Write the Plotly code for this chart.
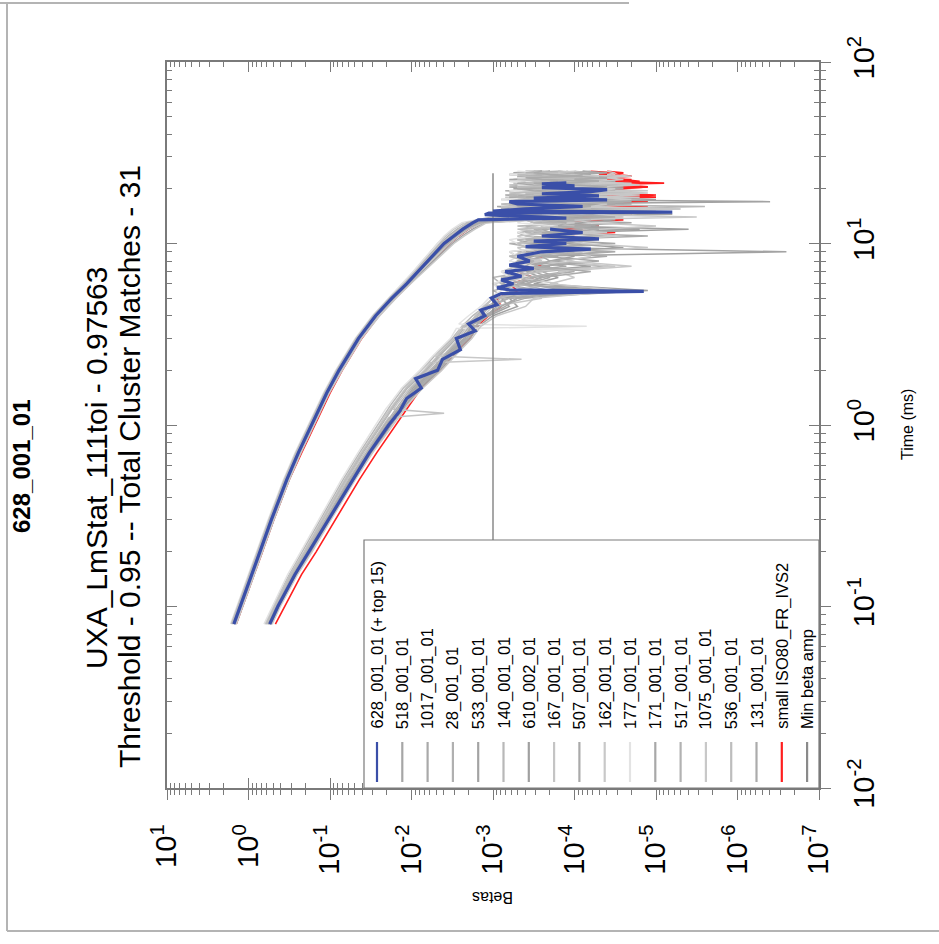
import plotly.graph_objects as go

# ---------------- data (log10 of beta) ----------------
T_UP_SMOOTH = [0.08, 0.1, 0.15, 0.2, 0.3, 0.5, 0.7, 1, 1.5, 2, 3, 4, 5, 6, 7, 8, 9, 10, 11, 12]
T_UP_NOISE = [13, 13.5, 14, 14.5, 15, 15.5, 16, 16.5, 17, 17.5, 18, 18.5, 19, 19.5, 20, 20.5,
              21, 21.5, 22, 22.5, 23, 23.5, 24, 24.5, 25]
T_LO_SMOOTH = [0.08, 0.1, 0.15, 0.2, 0.3, 0.5, 0.7, 1, 1.3, 1.6, 2, 2.5, 3, 3.5]
T_LO_SPIKY = [0.08, 0.1, 0.15, 0.2, 0.3, 0.5, 0.7, 1, 1.1, 1.16, 1.22, 1.3, 1.6, 2, 2.2, 2.3, 2.4,
              2.5, 3, 3.4, 3.5, 3.6]
T_LO_NOISE = [4, 4.5, 5, 5.5, 6, 6.5, 7, 7.5, 8, 8.5, 9, 9.5, 10, 10.5, 11, 11.5, 12, 12.5, 13, 13.5,
              14, 14.5, 15, 15.5, 16, 16.5, 17, 17.5, 18, 18.5, 19, 19.5, 20, 20.5, 21, 21.5, 22,
              22.5, 23, 23.5, 24, 24.5, 25]

T_BLUE_UP = [0.08, 0.1, 0.15, 0.2, 0.3, 0.5, 0.7, 1, 1.5, 2, 3, 4, 5, 6, 7, 8, 9, 10, 11, 12, 13,
             13.5, 13.8, 14.1, 14.4, 14.7, 14.9, 15.1, 15.5, 16, 16.5, 17, 17.4, 17.8, 18.3, 18.8,
             19.3, 19.8, 20.3, 20.8, 21.3, 21.6]
LB_BLUE_UP = [0.18, 0.10, -0.04, -0.14, -0.28, -0.47, -0.61, -0.77, -0.96, -1.11, -1.35, -1.56,
              -1.76, -1.94, -2.08, -2.20, -2.31, -2.40, -2.52, -2.63, -2.75,
              -2.82, -3.90, -3.30, -2.90, -2.95, -5.20, -3.00, -3.40, -4.10, -3.30, -3.20, -4.40,
              -3.50, -4.30, -3.60, -4.20, -4.40, -3.60, -4.00, -3.60, -3.90]
T_BLUE_LO = [0.08, 0.1, 0.15, 0.2, 0.3, 0.5, 0.7, 1, 1.2, 1.4, 1.6, 1.8, 2, 2.3, 2.6, 3, 3.3, 3.6,
             4, 4.3, 4.6, 5, 5.3, 5.45, 5.55, 5.7, 6, 6.3, 6.6, 7, 7.3, 7.6, 8, 8.5, 9, 9.3, 9.6,
             10, 10.3, 10.6, 11, 11.5, 12]
LB_BLUE_LO = [-0.26, -0.36, -0.57, -0.74, -0.97, -1.27, -1.48, -1.72, -1.86, -1.94, -2.12, -2.05,
              -2.32, -2.38, -2.60, -2.55, -2.78, -2.70, -2.90, -2.85, -3.05, -2.98, -3.10, -4.85,
              -3.20, -3.05, -3.25, -3.10, -3.35, -3.15, -3.50, -3.20, -3.45, -3.30, -3.60, -4.20,
              -3.40, -3.90, -3.50, -4.30, -3.60, -4.10, -3.70]

LB_RED_UP = [0.15, 0.07, -0.07, -0.17, -0.31, -0.50, -0.65, -0.81, -1.00, -1.15, -1.39, -1.60,
             -1.80, -1.98, -2.12, -2.25, -2.37, -2.47, -2.58, -2.70,
             -2.85, -3.00, -3.40, -3.20, -4.60, -3.50, -4.90, -3.80, -4.40, -3.60,
             -5.00, -4.20, -4.80, -3.90, -4.50, -4.90, -4.10, -5.10, -4.40, -4.70,
             -4.00, -4.60, -4.30, -4.50, -4.20]
LB_RED_LO = [-0.33, -0.44, -0.65, -0.83, -1.06, -1.36, -1.57, -1.81, -1.98, -2.12, -2.36, -2.55,
             -2.72, -2.80,
             -2.95, -3.10, -3.05, -3.30, -3.20, -3.50, -3.30, -3.60, -3.40, -3.70,
             -3.50, -3.80, -3.55, -4.20, -3.60, -4.50, -3.80, -4.30, -3.70, -4.60,
             -3.90, -4.70, -4.00, -4.40, -4.80, -4.10, -4.90, -4.30, -4.60, -5.00,
             -4.20, -4.70, -4.40, -4.90, -4.50, -4.30, -4.80, -4.60, -4.40, -4.70,
             -4.50, -4.60, -4.40]

up_518 = [0.20, 0.12, -0.02, -0.12, -0.26, -0.45, -0.59, -0.75, -0.94, -1.09, -1.33, -1.54, -1.74, -1.91, -2.05, -2.17, -2.28, -2.37, -2.48, -2.60,
          -2.74, -2.90, -3.60, -3.10, -4.20, -3.30, -3.05, -4.50, -3.40, -3.20, -3.90, -3.15, -4.30, -3.50, -3.25, -4.00, -3.35, -3.80, -3.20, -4.40, -3.45, -3.30, -3.90, -3.25, -3.60]
up_1017 = [0.16, 0.08, -0.06, -0.16, -0.30, -0.49, -0.63, -0.79, -0.98, -1.13, -1.37, -1.58, -1.79, -1.97, -2.12, -2.25, -2.36, -2.47, -2.58, -2.70,
           -2.85, -3.20, -4.10, -3.00, -3.70, -4.80, -3.20, -3.50, -4.00, -3.10, -4.60, -3.40, -3.30, -4.20, -3.60, -3.20, -4.50, -3.40, -3.90, -3.30, -4.10, -3.50, -3.20, -3.80, -3.40]
up_28 = [0.21, 0.13, -0.01, -0.11, -0.25, -0.44, -0.58, -0.74, -0.93, -1.08, -1.32, -1.53, -1.73, -1.90, -2.04, -2.15, -2.26, -2.35, -2.45, -2.56,
         -2.70, -2.80, -3.00, -3.90, -3.20, -3.10, -4.30, -3.30, -3.60, -4.70, -3.20, -3.50, -3.90, -3.15, -4.20, -3.40, -3.30, -4.00, -3.60, -3.25, -3.80, -3.40, -4.10, -3.30, -3.50]
up_533 = [0.17, 0.09, -0.05, -0.15, -0.29, -0.48, -0.62, -0.78, -0.97, -1.12, -1.36, -1.57, -1.77, -1.95, -2.10, -2.22, -2.34, -2.44, -2.56, -2.68,
          -2.80, -3.30, -3.10, -4.40, -3.50, -3.20, -3.80, -3.30, -6.40, -3.40, -3.30, -4.10, -3.60, -3.40, -4.40, -3.30, -3.70, -4.60, -3.40, -3.20, -4.00, -3.60, -3.30, -3.90, -3.50]
up_140 = [0.19, 0.11, -0.03, -0.13, -0.27, -0.46, -0.60, -0.76, -0.95, -1.10, -1.34, -1.55, -1.75, -1.92, -2.06, -2.19, -2.30, -2.40, -2.51, -2.64,
          -2.78, -3.00, -3.70, -3.20, -3.40, -4.00, -5.60, -3.50, -3.30, -4.20, -3.50, -3.20, -4.80, -3.60, -3.40, -3.90, -3.20, -4.30, -3.50, -3.30, -4.00, -3.40, -3.70, -3.30, -3.60]
up_610 = [0.15, 0.07, -0.07, -0.17, -0.31, -0.50, -0.64, -0.80, -0.99, -1.14, -1.38, -1.60, -1.80, -1.98, -2.13, -2.27, -2.39, -2.50, -2.62, -2.75,
          -2.90, -3.40, -3.20, -4.60, -3.60, -3.30, -4.20, -3.50, -4.00, -3.30, -4.50, -3.70, -3.40, -4.10, -3.30, -4.60, -3.60, -3.40, -4.20, -3.50, -3.30, -3.90, -3.60, -3.40, -3.70]
up_167 = [0.20, 0.12, -0.02, -0.12, -0.26, -0.45, -0.59, -0.75, -0.94, -1.09, -1.33, -1.54, -1.73, -1.90, -2.03, -2.14, -2.24, -2.32, -2.42, -2.52,
          -2.65, -2.85, -3.50, -3.05, -3.90, -3.20, -3.10, -4.10, -3.30, -3.60, -3.15, -4.20, -3.40, -3.20, -3.80, -3.30, -4.00, -3.25, -3.50, -3.90, -3.30, -3.60, -3.20, -3.70, -3.40]
up_507 = [0.18, 0.10, -0.04, -0.14, -0.28, -0.47, -0.61, -0.77, -0.96, -1.11, -1.35, -1.56, -1.76, -1.93, -2.07, -2.20, -2.32, -2.42, -2.53, -2.66,
          -2.82, -3.10, -4.00, -3.40, -3.20, -4.90, -3.50, -3.30, -3.90, -3.40, -3.20, -4.40, -3.60, -3.30, -4.10, -3.50, -3.80, -3.30, -4.50, -3.40, -3.60, -4.20, -3.50, -3.30, -3.80]
up_162 = [0.16, 0.08, -0.06, -0.16, -0.30, -0.49, -0.63, -0.79, -0.98, -1.13, -1.37, -1.59, -1.78, -1.96, -2.11, -2.23, -2.35, -2.46, -2.57, -2.69,
          -2.88, -3.30, -3.00, -3.80, -4.50, -3.40, -3.20, -4.00, -3.60, -3.30, -4.30, -3.50, -3.80, -4.90, -3.40, -3.60, -4.00, -3.50, -3.30, -4.40, -3.70, -3.40, -4.00, -3.60, -3.50]
up_177 = [0.22, 0.14, 0.00, -0.10, -0.24, -0.43, -0.57, -0.73, -0.92, -1.07, -1.31, -1.52, -1.72, -1.89, -2.02, -2.13, -2.23, -2.31, -2.40, -2.50,
          -2.62, -2.80, -3.20, -3.00, -3.60, -3.10, -3.90, -3.20, -3.40, -3.10, -3.80, -3.30, -3.50, -3.20, -4.00, -3.30, -3.60, -3.40, -3.20, -3.70, -3.30, -3.50, -3.20, -3.60, -3.30]
up_171 = [0.17, 0.09, -0.05, -0.15, -0.29, -0.48, -0.62, -0.78, -0.97, -1.12, -1.36, -1.57, -1.77, -1.94, -2.09, -2.21, -2.33, -2.43, -2.55, -2.67,
          -2.80, -3.50, -3.10, -3.30, -4.30, -3.60, -3.40, -3.20, -4.60, -3.50, -3.80, -3.30, -4.00, -3.60, -3.40, -4.40, -3.50, -3.30, -4.00, -3.60, -3.80, -3.40, -4.20, -3.50, -3.60]
up_517 = [0.19, 0.11, -0.03, -0.13, -0.27, -0.46, -0.60, -0.76, -0.95, -1.10, -1.34, -1.55, -1.75, -1.92, -2.07, -2.18, -2.29, -2.38, -2.50, -2.61,
          -2.72, -2.95, -3.40, -4.70, -3.30, -3.10, -3.70, -3.30, -4.20, -3.50, -3.30, -3.90, -3.40, -4.50, -3.60, -3.30, -3.90, -3.50, -4.10, -3.40, -3.70, -3.30, -4.00, -3.40, -3.60]
up_1075 = [0.15, 0.07, -0.07, -0.17, -0.31, -0.50, -0.64, -0.80, -0.99, -1.15, -1.39, -1.61, -1.81, -1.99, -2.15, -2.28, -2.41, -2.52, -2.65, -2.78,
           -2.92, -3.60, -3.30, -4.10, -3.50, -5.30, -3.70, -3.40, -4.30, -3.60, -4.80, -3.50, -3.90, -4.40, -3.60, -4.20, -3.70, -4.70, -3.80, -4.00, -3.60, -4.30, -3.90, -3.70, -4.00]
up_536 = [0.21, 0.13, -0.01, -0.11, -0.25, -0.44, -0.58, -0.74, -0.93, -1.08, -1.32, -1.53, -1.73, -1.91, -2.05, -2.16, -2.27, -2.36, -2.47, -2.58,
          -2.68, -2.85, -3.10, -3.60, -3.20, -4.00, -3.30, -3.10, -3.70, -3.30, -4.10, -3.40, -3.20, -3.80, -3.50, -3.30, -4.20, -3.40, -3.60, -3.30, -3.90, -3.40, -3.30, -3.80, -3.50]
up_131 = [0.18, 0.10, -0.04, -0.14, -0.28, -0.47, -0.61, -0.77, -0.96, -1.12, -1.36, -1.57, -1.77, -1.95, -2.09, -2.21, -2.33, -2.44, -2.55, -2.67,
          -2.84, -3.20, -3.80, -3.30, -5.00, -3.50, -3.30, -4.00, -3.60, -4.40, -3.40, -3.70, -4.20, -3.50, -3.30, -4.00, -3.70, -3.50, -4.30, -3.60, -3.40, -4.10, -3.70, -3.50, -3.60]

lo_518 = [-0.24, -0.34, -0.55, -0.72, -0.95, -1.24, -1.45, -1.69, -1.87, -2.02, -2.25, -2.45, -2.62, -2.75,
          -2.85, -2.95, -3.05, -3.60, -3.10, -3.30, -3.20, -3.70, -3.30, -3.50,
          -3.40, -4.10, -3.50, -3.30, -3.90, -3.40, -3.60, -4.30, -3.50, -3.40,
          -3.80, -3.50, -4.60, -3.60, -3.40, -4.00, -3.50, -3.70, -4.20, -3.50,
          -3.40, -3.90, -3.60, -4.40, -3.50, -3.70, -4.00, -3.50, -3.80, -3.60,
          -4.10, -3.60, -3.70]
lo_1017 = [-0.27, -0.37, -0.58, -0.76, -0.99, -1.29, -1.50, -1.74, -1.93, -2.10, -2.33, -2.52, -2.70, -2.80,
           -2.90, -3.10, -3.00, -4.20, -3.20, -3.50, -3.30, -3.90, -3.40, -3.60,
           -4.50, -3.50, -3.40, -4.00, -3.60, -3.80, -4.60, -3.60, -3.50, -4.10,
           -3.70, -3.50, -4.30, -3.80, -3.60, -4.70, -3.70, -3.50, -4.00, -3.80,
           -4.30, -3.60, -3.80, -4.10, -3.70, -4.50, -3.80, -3.60, -4.00, -3.70,
           -3.90, -4.20, -3.80]
lo_28 = [-0.22, -0.32, -0.52, -0.69, -0.91, -1.20, -1.40, -1.63, -1.80, -1.95, -2.18, -2.38, -2.55, -2.66,
         -2.80, -2.90, -3.20, -3.00, -3.40, -3.10, -3.60, -3.20, -3.30, -3.80,
         -3.30, -3.50, -3.20, -4.20, -3.40, -3.30, -3.70, -3.40, -3.90, -3.30,
         -3.50, -4.10, -3.40, -3.60, -3.30, -3.80, -3.40, -4.00, -3.50, -3.30,
         -3.70, -3.40, -3.60, -4.20, -3.40, -3.50, -3.80, -3.40, -3.60, -3.90,
         -3.50, -3.40, -3.60]
lo_533 = [-0.25, -0.35, -0.56, -0.73, -0.96, -1.26, -1.47, -1.71, -1.89, -2.05, -2.28, -2.48, -2.66, -2.74,
          -2.95, -3.20, -3.10, -4.50, -3.30, -3.60, -3.40, -4.20, -3.50, -3.40,
          -6.60, -3.60, -3.50, -4.30, -3.70, -3.50, -4.80, -3.60, -3.80, -4.10,
          -3.60, -5.20, -3.70, -3.50, -4.40, -3.80, -3.60, -4.20, -3.90, -3.60,
          -4.60, -3.80, -3.70, -4.30, -3.90, -3.70, -4.50, -3.80, -3.90, -4.20,
          -3.80, -4.00, -3.90]
lo_140 = [-0.20, -0.30, -0.50, -0.66, -0.88, -1.16, -1.36, -1.58, -1.75, -1.90, -2.12, -2.32, -2.50, -2.62,
          -2.75, -2.90, -3.00, -3.50, -3.10, -3.00, -3.40, -3.20, -3.60, -3.30,
          -3.20, -3.70, -3.40, -3.30, -4.00, -3.40, -3.60, -3.30, -4.20, -3.50,
          -3.40, -3.80, -3.50, -3.30, -3.90, -3.60, -3.40, -4.10, -3.50, -3.70,
          -3.40, -4.30, -3.60, -3.50, -3.90, -3.60, -3.40, -4.00, -3.50, -3.70,
          -3.50, -3.80, -3.60]
lo_610 = [-0.28, -0.38, -0.59, -0.77, -1.00, -1.30, -1.51, -1.75, -1.94, -2.12, -2.35, -2.55, -2.72, -2.82,
          -3.00, -3.30, -3.20, -4.90, -3.50, -3.80, -3.60, -4.40, -3.70, -4.00,
          -3.80, -4.60, -3.90, -3.70, -4.30, -3.90, -5.40, -3.80, -4.10, -4.50,
          -3.90, -4.20, -4.80, -4.00, -3.80, -4.40, -4.10, -5.00, -4.00, -4.30,
          -3.90, -4.60, -4.20, -4.00, -4.70, -4.10, -4.30, -3.90, -4.50, -4.20,
          -4.00, -4.40, -4.10]
# the three light traces below carry short spikes, so they use the finer T_LO_SPIKY grid
lo_167 = [-0.23, -0.33, -0.53, -0.70, -0.92, -1.21, -1.42, -1.65, -1.72, -2.40, -1.78, -1.82,
          -1.98, -2.20, -2.28, -2.32, -2.36, -2.42, -2.58, -2.66, -2.68, -2.72,
          -2.78, -2.88, -3.00, -3.20, -3.00, -3.40, -3.10, -3.30, -3.60, -3.20,
          -3.40, -3.30, -3.90, -3.40, -3.30, -3.70, -3.40, -3.50, -4.00, -3.40,
          -3.60, -3.40, -3.80, -3.50, -3.40, -4.10, -3.50, -3.60, -3.40, -3.90,
          -3.50, -3.40, -4.00, -3.50, -3.60, -3.40, -3.80, -3.50, -3.70, -3.40,
          -3.60, -3.50, -3.70]
lo_162 = [-0.21, -0.31, -0.51, -0.68, -0.90, -1.18, -1.38, -1.61, -1.66, -1.70, -1.73, -1.78,
          -1.93, -2.12, -2.22, -3.35, -2.27, -2.35, -2.52, -2.60, -2.62, -2.64,
          -2.88, -3.00, -3.60, -3.20, -3.80, -3.30, -3.50, -4.50, -3.50, -3.70,
          -3.50, -4.20, -3.60, -3.80, -3.60, -4.40, -3.70, -3.60, -4.00, -3.80,
          -5.50, -3.80, -3.70, -4.20, -3.90, -3.70, -4.40, -3.80, -4.00, -4.80,
          -3.90, -3.80, -4.30, -4.00, -3.80, -4.50, -3.90, -4.10, -4.00, -4.60,
          -3.90, -4.20, -4.00]
lo_177 = [-0.19, -0.29, -0.48, -0.64, -0.86, -1.14, -1.34, -1.56, -1.61, -1.65, -1.68, -1.73,
          -1.88, -2.10, -2.18, -2.22, -2.26, -2.30, -2.48, -2.55, -4.15, -2.58,
          -2.70, -2.85, -2.95, -3.10, -3.00, -3.20, -3.10, -3.50, -3.20, -3.30,
          -3.20, -3.60, -3.30, -3.20, -3.50, -3.30, -3.40, -3.80, -3.30, -3.40,
          -3.30, -3.70, -3.40, -3.30, -3.60, -3.40, -3.30, -3.90, -3.40, -3.50,
          -3.30, -3.60, -3.40, -3.50, -3.30, -3.80, -3.40, -3.50, -3.30, -3.60,
          -3.40, -3.50, -3.40]
lo_507 = [-0.26, -0.36, -0.57, -0.74, -0.97, -1.27, -1.48, -1.72, -1.90, -2.07, -2.30, -2.50, -2.68, -2.76,
          -2.92, -3.05, -3.40, -4.30, -3.30, -3.50, -4.00, -3.40, -3.70, -4.40,
          -3.50, -3.70, -4.10, -3.60, -4.90, -3.70, -3.60, -4.20, -3.80, -3.60,
          -4.50, -3.70, -3.90, -4.30, -3.70, -3.80, -4.60, -3.70, -4.00, -3.80,
          -4.40, -3.70, -4.10, -3.90, -4.70, -3.80, -4.00, -4.20, -3.80, -4.40,
          -3.90, -4.10, -4.00]
lo_171 = [-0.25, -0.35, -0.56, -0.73, -0.96, -1.25, -1.46, -1.70, -1.88, -2.04, -2.27, -2.47, -2.64, -2.73,
          -2.90, -3.10, -3.30, -3.90, -3.40, -3.70, -3.50, -3.60, -4.30, -3.60,
          -3.80, -3.60, -4.50, -3.70, -3.90, -3.70, -4.10, -3.80, -4.70, -3.80,
          -3.90, -4.30, -3.80, -4.00, -3.90, -4.50, -3.90, -4.10, -3.90, -4.40,
          -4.00, -3.90, -4.60, -4.00, -4.20, -3.90, -4.30, -4.00, -4.50, -4.10,
          -4.00, -4.30, -4.10]
lo_517 = [-0.24, -0.34, -0.54, -0.71, -0.94, -1.23, -1.44, -1.67, -1.85, -2.00, -2.23, -2.44, -2.60, -2.71,
          -2.82, -2.98, -3.20, -3.70, -3.30, -3.40, -3.90, -3.40, -3.50, -3.30,
          -4.10, -3.50, -3.60, -3.40, -4.40, -3.60, -3.50, -3.90, -3.60, -4.20,
          -3.60, -3.80, -3.60, -4.60, -3.70, -3.60, -4.00, -3.70, -3.90, -3.70,
          -4.20, -3.70, -4.00, -3.80, -4.40, -3.70, -3.90, -3.80, -4.10, -3.80,
          -3.90, -4.00, -3.80]
lo_1075 = [-0.29, -0.39, -0.60, -0.78, -1.01, -1.31, -1.52, -1.77, -1.96, -2.14, -2.37, -2.57, -2.74, -2.85,
           -3.05, -3.40, -3.50, -4.60, -3.70, -4.00, -3.80, -4.70, -3.90, -4.20,
           -4.00, -4.90, -4.10, -3.90, -4.50, -4.10, -4.30, -5.00, -4.20, -4.00,
           -4.60, -4.30, -4.10, -5.30, -4.20, -4.40, -4.10, -4.70, -4.30, -4.20,
           -4.90, -4.30, -4.50, -4.20, -4.80, -4.40, -4.30, -4.60, -4.40, -4.70,
           -4.40, -4.50, -4.40]
lo_536 = [-0.22, -0.32, -0.52, -0.69, -0.91, -1.19, -1.39, -1.62, -1.79, -1.94, -2.16, -2.36, -2.53, -2.64,
          -2.80, -2.95, -3.10, -3.40, -3.20, -3.10, -3.60, -3.30, -3.40, -3.20,
          -3.80, -3.40, -3.30, -3.70, -3.40, -3.60, -3.30, -4.00, -3.50, -3.40,
          -3.70, -3.50, -3.40, -4.20, -3.50, -3.60, -3.40, -3.80, -3.50, -3.70,
          -3.40, -4.10, -3.60, -3.50, -3.80, -3.50, -3.70, -3.60, -4.00, -3.60,
          -3.70, -3.50, -3.60]
lo_131 = [-0.27, -0.37, -0.58, -0.75, -0.98, -1.28, -1.49, -1.73, -1.91, -2.08, -2.31, -2.51, -2.68, -2.78,
          -2.93, -3.15, -3.30, -4.00, -3.40, -3.60, -4.20, -3.50, -3.70, -3.60,
          -4.40, -3.70, -3.60, -4.10, -3.80, -3.60, -4.30, -3.80, -3.90, -3.70,
          -4.50, -3.80, -4.00, -3.80, -4.20, -3.90, -4.70, -3.80, -4.00, -4.30,
          -3.90, -4.10, -3.90, -4.40, -4.00, -3.90, -4.20, -4.00, -4.30, -4.00,
          -4.10, -4.00, -4.20]

MIN_BETA_AMP = 1e-3
MIN_BETA_TIMES = [0.08, 24.4]

GRAY_NAMES = ["518_001_01", "1017_001_01", "28_001_01", "533_001_01", "140_001_01", "610_002_01",
              "167_001_01", "507_001_01", "162_001_01", "177_001_01", "171_001_01", "517_001_01",
              "1075_001_01", "536_001_01", "131_001_01"]
GRAY_UP = [up_518, up_1017, up_28, up_533, up_140, up_610, up_167, up_507, up_162, up_177,
           up_171, up_517, up_1075, up_536, up_131]
GRAY_LO = [lo_518, lo_1017, lo_28, lo_533, lo_140, lo_610, lo_167, lo_507, lo_162, lo_177,
           lo_171, lo_517, lo_1075, lo_536, lo_131]
SPIKY = {"167_001_01", "162_001_01", "177_001_01"}
GRAY_COLORS = ["#a6a6a6", "#a9a9a9", "#b0b0b0", "#a3a3a3", "#b8b8b8", "#a0a0a0", "#c4c4c4",
               "#aaaaaa", "#c8c8c8", "#e3e3e3", "#a8a8a8", "#b2b2b2", "#c8c8c8", "#bdbdbd", "#ababab"]

BETA_TICKS = [1e1, 1e0, 1e-1, 1e-2, 1e-3, 1e-4, 1e-5, 1e-6, 1e-7]
BETA_TICK_TEXT = ["10<sup>1</sup>", "10<sup>0</sup>", "10<sup>-1</sup>", "10<sup>-2</sup>",
                  "10<sup>-3</sup>", "10<sup>-4</sup>", "10<sup>-5</sup>", "10<sup>-6</sup>",
                  "10<sup>-7</sup>"]
TIME_TICKS = [1e-2, 1e-1, 1e0, 1e1, 1e2]
TIME_TICK_TEXT = ["10<sup>-2</sup>", "10<sup>-1</sup>", "10<sup>0</sup>", "10<sup>1</sup>",
                  "10<sup>2</sup>"]

BLUE = "#3a4fa8"
RED = "#ff1e1e"
MINCOL = "#8a8a8a"
AX = "#7a7a7a"
FONT = "Liberation Sans, Arial, sans-serif"

# ---------------- layout geometry ----------------
W, H = 939, 944
ML, MR, MT, MB = 167, 120, 62, 156
PW, PH = W - ML - MR, H - MT - MB


def fx(px):
    return (px - ML) / PW


def fy(py):
    return (H - MB - py) / PH


def to_beta(vals):
    return [10 ** v for v in vals]


fig = go.Figure()


def add_line(t, lb, color, width):
    fig.add_trace(go.Scatter(x=to_beta(lb), y=t, mode="lines",
                             line=dict(color=color, width=width),
                             showlegend=False, hoverinfo="skip"))


# red reference first (it is partly hidden by the grey matches)
add_line(T_UP_SMOOTH + T_UP_NOISE, LB_RED_UP, RED, 1.6)
add_line(T_LO_SMOOTH + T_LO_NOISE, LB_RED_LO, RED, 1.6)
for name, up, lo, col in zip(GRAY_NAMES, GRAY_UP, GRAY_LO, GRAY_COLORS):
    add_line(T_UP_SMOOTH + T_UP_NOISE, up, col, 1.5)
    t_lo = (T_LO_SPIKY if name in SPIKY else T_LO_SMOOTH) + T_LO_NOISE
    add_line(t_lo, lo, col, 1.5)

fig.add_trace(go.Scatter(x=[MIN_BETA_AMP] * len(MIN_BETA_TIMES), y=MIN_BETA_TIMES, mode="lines",
                         line=dict(color=MINCOL, width=1.5), showlegend=False, hoverinfo="skip"))
add_line(T_BLUE_UP, LB_BLUE_UP, BLUE, 3.2)
add_line(T_BLUE_LO, LB_BLUE_LO, BLUE, 3.2)

# helper trace for the overlaid tick axes
fig.add_trace(go.Scatter(x=[], y=[], xaxis="x2", yaxis="y2", showlegend=False))

beta_minor = [k * 10 ** d for d in range(-7, 1) for k in range(2, 10)]
time_minor = [k * 10 ** d for d in range(-2, 2) for k in range(2, 10)]

common = dict(type="log", showgrid=False, zeroline=False, tickcolor=AX, tickwidth=1.3)

fig.update_layout(
    width=W, height=H,
    margin=dict(l=ML, r=MR, t=MT, b=MB, pad=0),
    paper_bgcolor="white", plot_bgcolor="white",
    font=dict(family=FONT, color="black"),
    showlegend=False,
    xaxis=dict(**common, range=[1, -7], tickmode="array", tickvals=BETA_TICKS,
               ticktext=BETA_TICK_TEXT, tickangle=-90, tickfont=dict(size=29, family=FONT),
               ticks="outside", ticklen=10, showline=True, linecolor=AX, linewidth=1.5,
               mirror=True, ticklabelstandoff=13,
               minor=dict(tickvals=beta_minor, ticks="outside", ticklen=5, tickcolor=AX,
                          tickwidth=1.1, showgrid=False)),
    xaxis2=dict(**common, range=[1, -7], overlaying="x", anchor="y", side="bottom",
                tickmode="array", tickvals=BETA_TICKS, showticklabels=False,
                ticks="inside", ticklen=10, mirror="ticks", showline=False,
                minor=dict(tickvals=beta_minor, ticks="inside", ticklen=5, tickcolor=AX,
                           tickwidth=1.1, showgrid=False)),
    yaxis=dict(**common, range=[-2, 2], side="right", tickmode="array", tickvals=TIME_TICKS,
               ticktext=TIME_TICK_TEXT, tickangle=-90, tickfont=dict(size=29, family=FONT),
               ticks="outside", ticklen=10, showline=True, linecolor=AX, linewidth=1.5,
               mirror=True, ticklabelstandoff=8,
               minor=dict(tickvals=time_minor, ticks="outside", ticklen=5, tickcolor=AX,
                          tickwidth=1.1, showgrid=False)),
    yaxis2=dict(**common, range=[-2, 2], overlaying="y", anchor="x", side="right",
                tickmode="array", tickvals=TIME_TICKS, showticklabels=False,
                ticks="inside", ticklen=10, mirror="ticks", showline=False,
                minor=dict(tickvals=time_minor, ticks="inside", ticklen=5, tickcolor=AX,
                           tickwidth=1.1, showgrid=False)),
)

shapes = []
annotations = []

# page frame (screenshot border)
frame_col = "#b4b4b4"
shapes.append(dict(type="line", xref="paper", yref="paper", x0=fx(7), x1=fx(7), y0=fy(3), y1=fy(931),
                   line=dict(color=frame_col, width=2)))
shapes.append(dict(type="line", xref="paper", yref="paper", x0=fx(7), x1=fx(939), y0=fy(931), y1=fy(931),
                   line=dict(color=frame_col, width=2)))
shapes.append(dict(type="line", xref="paper", yref="paper", x0=fx(0), x1=fx(629), y0=fy(3), y1=fy(3),
                   line=dict(color=frame_col, width=2)))

# titles (rotated)
annotations.append(dict(text="<b>628_001_01</b>", x=fx(21), y=fy(467), xref="paper", yref="paper",
                        textangle=-90, showarrow=False, xanchor="center", yanchor="middle",
                        font=dict(size=24, family=FONT, color="black")))
annotations.append(dict(text="UXA_LmStat_111toi - 0.97563", x=fx(96), y=fy(468), xref="paper",
                        yref="paper", textangle=-90, showarrow=False, xanchor="center",
                        yanchor="middle", font=dict(size=30, family=FONT, color="black")))
annotations.append(dict(text="Threshold - 0.95 -- Total Cluster Matches - 31", x=fx(129), y=fy(467),
                        xref="paper", yref="paper", textangle=-90, showarrow=False,
                        xanchor="center", yanchor="middle",
                        font=dict(size=30, family=FONT, color="black")))
annotations.append(dict(text="Betas", x=0.5, y=fy(898), xref="paper", yref="paper", textangle=180,
                        showarrow=False, xanchor="center", yanchor="middle",
                        font=dict(size=16, family=FONT, color="black")))
annotations.append(dict(text="Time (ms)", x=fx(907), y=0.5, xref="paper", yref="paper",
                        textangle=-90, showarrow=False, xanchor="center", yanchor="middle",
                        font=dict(size=16, family=FONT, color="black")))

# legend (drawn rotated, like the reference)
shapes.append(dict(type="rect", xref="paper", yref="paper", x0=fx(364), x1=1.0, y0=0.0, y1=fy(540),
                   fillcolor="white", line=dict(color=AX, width=1.2), layer="above"))
legend_names = ["628_001_01 (+ top 15)"] + GRAY_NAMES + ["small ISO80_FR_IVS2", "Min beta amp"]
legend_colors = [BLUE] + GRAY_COLORS + [RED, MINCOL]
for i, (name, col) in enumerate(zip(legend_names, legend_colors)):
    px = 377 + 25.3 * i
    shapes.append(dict(type="line", xref="paper", yref="paper", x0=fx(px), x1=fx(px),
                       y0=fy(782), y1=fy(742), line=dict(color=col, width=2.2), layer="above"))
    annotations.append(dict(text=name, x=fx(px), y=fy(731), xref="paper", yref="paper",
                            textangle=-90, showarrow=False, xanchor="center", yanchor="bottom",
                            font=dict(size=16.5, family=FONT, color="black")))

fig.update_layout(shapes=shapes, annotations=annotations)
fig.write_html("out.html")
